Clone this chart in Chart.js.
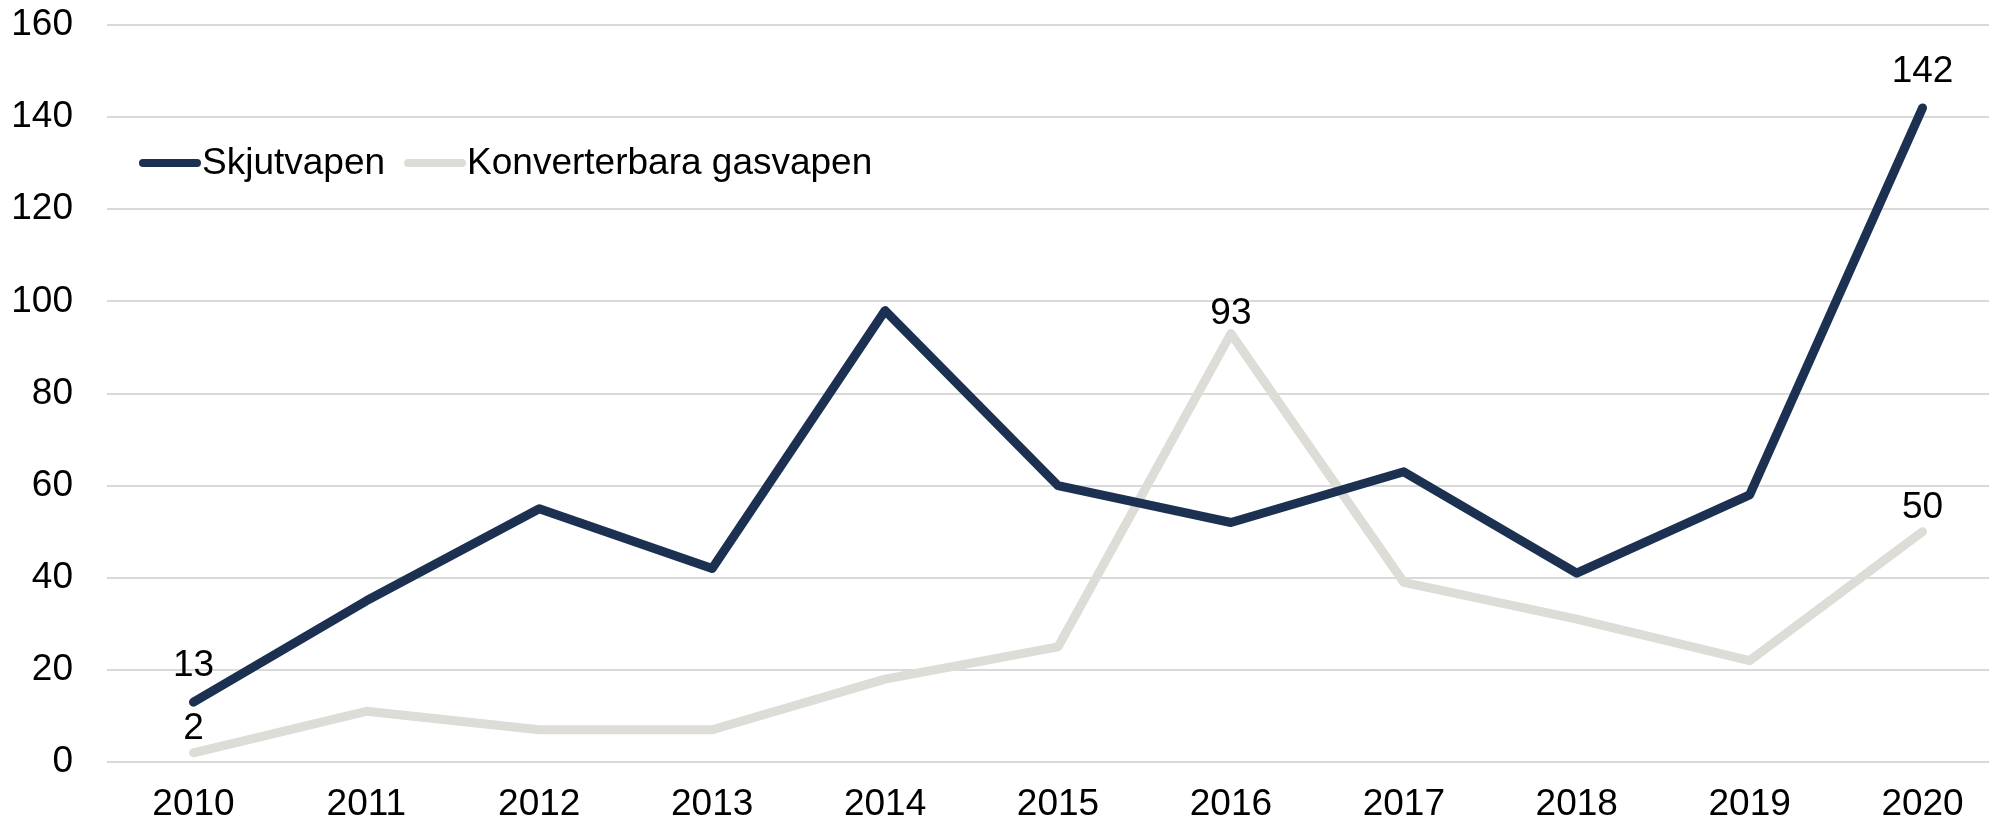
<!DOCTYPE html>
<html>
<head>
<meta charset="utf-8">
<script src="https://cdn.jsdelivr.net/npm/chart.js@4.4.1/dist/chart.umd.min.js"></script>
<style>
html,body{margin:0;padding:0;background:#fff;overflow:hidden;}
#wrap{position:absolute;left:0;top:0;width:2009px;height:824px;}
</style>
</head>
<body>
<div id="wrap"><canvas id="c"></canvas></div>
<script>
const years = ['2010','2011','2012','2013','2014','2015','2016','2017','2018','2019','2020'];
const skjutvapen = [13, 35, 55, 42, 98, 60, 52, 63, 41, 58, 142];
const gasvapen = [2, 11, 7, 7, 18, 25, 93, 39, 31, 22, 50];
const seriesNames = ['Skjutvapen', 'Konverterbara gasvapen'];
const yTicks = [0, 20, 40, 60, 80, 100, 120, 140, 160];
// which points carry a value label: [datasetIndex, pointIndex]
const labelledPoints = [[0, 0], [1, 0], [1, 6], [0, 10], [1, 10]];

const FONT = '"Liberation Sans", Arial, sans-serif';
const FS = 37;
const navy = '#1c3152';
const grey = '#dddcd7';

const labelGap = {'0-0': 26, '1-0': 14, '1-6': 10, '0-10': 26, '1-10': 14};

const valueLabels = {
  id: 'valueLabels',
  afterDatasetsDraw(chart) {
    const ctx = chart.ctx;
    ctx.save();
    ctx.font = FS + 'px ' + FONT;
    ctx.fillStyle = '#000';
    ctx.textAlign = 'center';
    ctx.textBaseline = 'alphabetic';
    labelledPoints.forEach(([d, i]) => {
      const el = chart.getDatasetMeta(d).data[i];
      const v = chart.data.datasets[d].data[i];
      ctx.fillText(String(v), el.x, el.y - (labelGap[d + '-' + i] || 12));
    });
    ctx.restore();
  }
};

const innerLegend = {
  id: 'innerLegend',
  afterDraw(chart) {
    const ctx = chart.ctx;
    ctx.save();
    ctx.font = FS + 'px ' + FONT;
    ctx.textBaseline = 'middle';
    ctx.textAlign = 'left';
    let x = 143;
    const y = 163;
    chart.data.datasets.forEach(ds => {
      ctx.strokeStyle = ds.borderColor;
      ctx.lineWidth = 8;
      ctx.lineCap = 'round';
      ctx.beginPath();
      ctx.moveTo(x, y);
      ctx.lineTo(x + 54, y);
      ctx.stroke();
      ctx.fillStyle = '#000';
      ctx.fillText(ds.label, x + 59, y + 1);
      x += 59 + ctx.measureText(ds.label).width + 23;
    });
    ctx.restore();
  }
};

new Chart(document.getElementById('c'), {
  type: 'line',
  data: {
    labels: years,
    datasets: [
      {label: seriesNames[0], data: skjutvapen, borderColor: navy, backgroundColor: navy,
       borderWidth: 9, pointRadius: 0, borderCapStyle: 'round', borderJoinStyle: 'round', tension: 0, order: 1},
      {label: seriesNames[1], data: gasvapen, borderColor: grey, backgroundColor: grey,
       borderWidth: 9, pointRadius: 0, borderCapStyle: 'round', borderJoinStyle: 'round', tension: 0, order: 2}
    ]
  },
  options: {
    responsive: true,
    maintainAspectRatio: false,
    animation: false,
    devicePixelRatio: 1,
    layout: {padding: {top: 25, right: 0, bottom: 0, left: 0}},
    plugins: {legend: {display: false}, tooltip: {enabled: false}},
    scales: {
      x: {
        offset: true,
        grid: {display: false, drawTicks: false},
        border: {display: false},
        ticks: {color: '#000', font: {family: FONT, size: FS}, padding: 21, maxRotation: 0, autoSkip: false},
        afterFit(axis) { axis.height = 62; axis.paddingLeft = 0; axis.paddingRight = 0; }
      },
      y: {
        min: 0, max: 160,
        afterBuildTicks(axis) { axis.ticks = yTicks.map(v => ({value: v})); },
        grid: {color: '#d9d9d9', lineWidth: 2, drawTicks: false},
        border: {display: false},
        ticks: {color: '#000', font: {family: FONT, size: FS}, padding: 34},
        afterFit(axis) { axis.width = 107; axis.paddingTop = 0; axis.paddingBottom = 0; }
      }
    }
  },
  plugins: [valueLabels, innerLegend]
});
</script>
</body>
</html>
